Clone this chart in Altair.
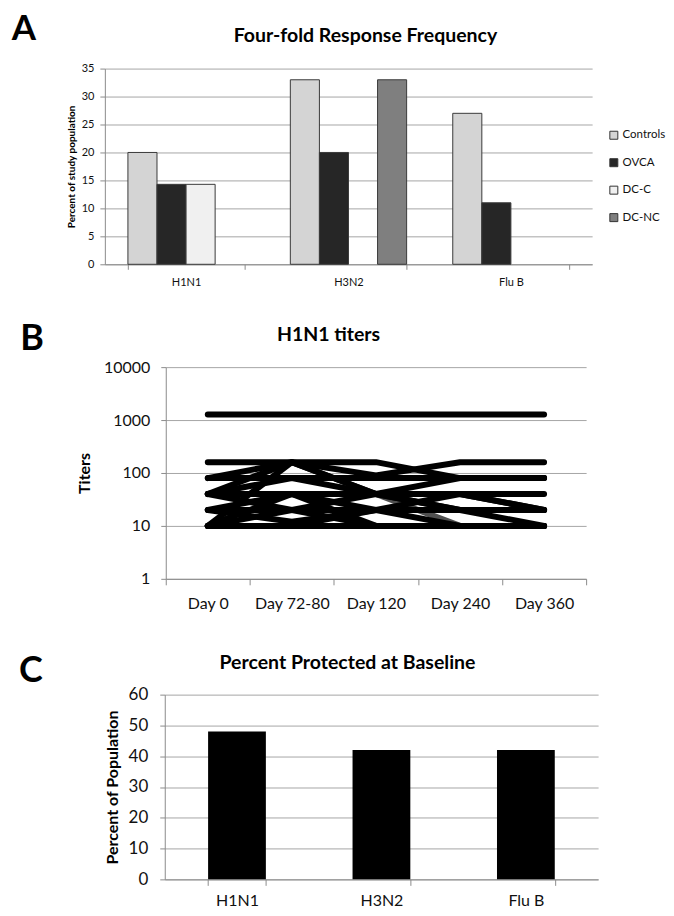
import altair as alt
import pandas as pd

FONT = "Lato"

# ---------------- Panel A data ----------------
a_categories = ["H1N1", "H3N2", "Flu B"]
a_groups = ["Controls", "OVCA", "DC-C", "DC-NC"]
a_controls = [20, 33, 27]
a_ovca = [14.3, 20, 11]
a_dcc = [14.3, None, None]
a_dcnc = [None, 33, None]
a_colors = ["#d4d4d4", "#262626", "#f0f0f0", "#7f7f7f"]

# ---------------- Panel B data ----------------
b_days = ["Day 0", "Day 72-80", "Day 120", "Day 240", "Day 360"]
b_series = [
    [1280, 1280, 1280, 1280, 1280],
    [160, 160, 160, 80, 80],
    [80, 160, 90, 160, 160],
    [80, 80, 80, 80, 80],
    [40, 160, 40, 80, 80],
    [40, 80, 40, 40, 40],
    [40, 20, 20, 20, 20],
    [20, 40, 20, 10, 10],
    [20, 20, 10, 10, 10],
    [10, 160, 40, 20, 10],
    [10, 40, 10, 10, 10],
    [10, 20, 40, 20, 20],
    [10, 10, 20, 20, 20],
    [40, 40, 40, 40, 20],
    [20, 12, 20, 40, 20],
    [10, 10, 10, 10, 10],
]
b_gray = [40, 40, 40, 10, 10]

# ---------------- Panel C data ----------------
c_categories = ["H1N1", "H3N2", "Flu B"]
c_values = [48, 42, 42]

letters = ["A", "B", "C"]
titles = ["Four-fold Response Frequency", "H1N1 titers", "Percent Protected at Baseline"]

# ---------------- tables ----------------
rows = []
for g, vals in zip(a_groups, [a_controls, a_ovca, a_dcc, a_dcnc]):
    for c, v in zip(a_categories, vals):
        if v is not None:
            rows.append({"category": c, "group": g, "value": v})
df_a = pd.DataFrame(rows)

rows = []
for si, s in enumerate(b_series):
    for d, v in zip(b_days, s):
        rows.append({"series": si, "day": d, "titer": v})
df_b = pd.DataFrame(rows)
df_bg = pd.DataFrame({"day": b_days, "titer": b_gray})

df_c = pd.DataFrame({"category": c_categories, "value": c_values})

GRID = "#a6a6a6"
AX = "#8c8c8c"


def anchor(x0, x1, y0, y1):
    return alt.Chart(pd.DataFrame({"k": [0]})).mark_rect(opacity=0).encode(
        x=alt.value(x0), x2=alt.value(x1), y=alt.value(y0), y2=alt.value(y1)
    )


def label(text, x, y, size, weight="bold"):
    return alt.Chart(pd.DataFrame({"t": [text]})).mark_text(
        font=FONT, fontSize=size, fontWeight=weight, color="black",
        align="center", baseline="middle"
    ).encode(text="t:N", x=alt.value(x), y=alt.value(y))


def spacer():
    return anchor(0, 0, 0, 0).properties(width=1, height=1)


# ---------------- Panel A ----------------
WA, HA = 488, 196
bars_a = alt.Chart(df_a).mark_bar(stroke="#3a3a3a", strokeWidth=1).encode(
    x=alt.X("category:N", sort=a_categories, title=None,
            scale=alt.Scale(paddingInner=0.284, paddingOuter=0.142),
            axis=alt.Axis(labelAngle=0, labelFont=FONT, labelFontSize=11, labelColor="#111",
                          domainColor=AX, tickColor=AX, tickSize=5, tickBand="extent",
                          labelPadding=7, grid=False)),
    xOffset=alt.XOffset("group:N", sort=a_groups,
                        scale=alt.Scale(domain=a_groups, paddingInner=0, paddingOuter=0)),
    y=alt.Y("value:Q", title="Percent of study population",
            scale=alt.Scale(domain=[0, 35], nice=False),
            axis=alt.Axis(values=list(range(0, 36, 5)), labelFont=FONT, labelFontSize=11,
                          labelColor="#111", titleFont=FONT, titleFontSize=10, titleFontWeight="bold",
                          titleColor="black", titleX=-28, gridColor=GRID, domainColor=AX,
                          tickColor=AX, tickSize=5, labelPadding=6)),
    color=alt.Color("group:N", sort=a_groups,
                    scale=alt.Scale(domain=a_groups, range=a_colors),
                    legend=alt.Legend(title=None, orient="none", legendX=601, legendY=61,
                                      symbolType="square", symbolSize=64,
                                      symbolStrokeColor="#333", symbolStrokeWidth=1,
                                      labelFont=FONT, labelFontSize=11.5, labelColor="#111",
                                      rowPadding=14.5, labelOffset=3)),
)
panel_a = alt.layer(
    anchor(-96, 560, -60, 237),
    bars_a,
    label(letters[0], -81, -40, 35),
    label(titles[0], 261, -33, 19.5),
).properties(width=WA, height=HA)

# ---------------- Panel B ----------------
WB, HB = 421, 212
xb = alt.X("day:N", sort=b_days, title=None,
           scale=alt.Scale(domain=b_days, paddingInner=0, paddingOuter=0),
           axis=alt.Axis(labelAngle=0, labelFont=FONT, labelFontSize=16, labelColor="#111",
                         domainColor=AX, tickColor=AX, tickSize=6, tickBand="extent",
                         labelPadding=11, grid=False))
yb = alt.Y("titer:Q", title="Titers",
           scale=alt.Scale(type="log", domain=[1, 10000], nice=False),
           axis=alt.Axis(values=[1, 10, 100, 1000, 10000], format="d", labelFont=FONT,
                         labelFontSize=16, labelColor="#111", titleFont=FONT, titleFontSize=16,
                         titleFontWeight="bold", titleColor="black", titleX=-73,
                         gridColor=GRID, domainColor=AX, tickColor=AX, tickSize=5, labelPadding=11))
gray_b = alt.Chart(df_bg).mark_line(color="#505050", strokeWidth=6, strokeCap="round",
                                    strokeJoin="round").encode(x=xb, y=yb)
lines_b = alt.Chart(df_b).mark_line(color="black", strokeWidth=6, strokeCap="round",
                                    strokeJoin="round").encode(x=xb, y=yb, detail="series:N")
panel_b = alt.layer(
    anchor(-157, 500, -62, 268),
    gray_b,
    lines_b,
    label(letters[1], -134, -28, 36),
    label(titles[1], 163, -32, 19.5),
).properties(width=WB, height=HB)

# ---------------- Panel C ----------------
WC, HC = 434, 185
bars_c = alt.Chart(df_c).mark_bar(color="black").encode(
    x=alt.X("category:N", sort=c_categories, title=None,
            scale=alt.Scale(paddingInner=0.6, paddingOuter=0.3),
            axis=alt.Axis(labelAngle=0, labelFont=FONT, labelFontSize=16, labelColor="#111",
                          domainColor=AX, tickColor=AX, tickSize=6, tickBand="extent",
                          labelPadding=7, grid=False)),
    y=alt.Y("value:Q", title="Percent of Population",
            scale=alt.Scale(domain=[0, 60], nice=False),
            axis=alt.Axis(values=list(range(0, 61, 10)), labelFont=FONT, labelFontSize=17,
                          labelColor="#111", titleFont=FONT, titleFontSize=16,
                          titleFontWeight="bold", titleColor="black", titleX=-44,
                          gridColor=GRID, domainColor=AX, tickColor=AX, tickSize=5, labelPadding=12)),
)
panel_c = alt.layer(
    anchor(-156, 500, -60, 213),
    bars_c,
    label(letters[2], -134, -24, 36),
    label(titles[2], 183, -32, 19.5),
).properties(width=WC, height=HC)

row_a = alt.hconcat(spacer(), panel_a, spacing=0)
row_b = alt.hconcat(spacer(), panel_b, spacing=0)
row_c = alt.hconcat(spacer(), panel_c, spacing=0)

chart = alt.vconcat(row_a, row_b, row_c, spacing=0).properties(
    padding=0
).configure_view(stroke=None).configure_concat(spacing=0)

chart.save("out.html", embed_options={"renderer": "svg", "actions": False})
